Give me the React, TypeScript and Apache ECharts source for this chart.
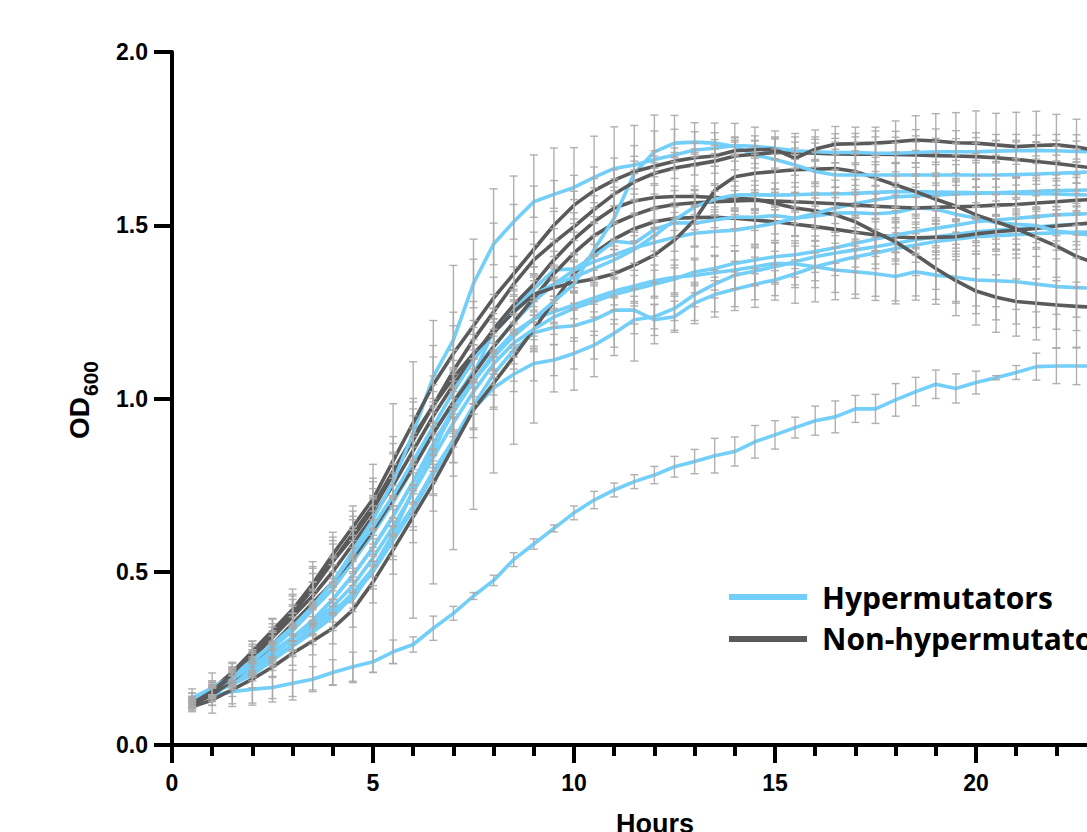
import React, { useEffect, useRef } from 'react';
import * as echarts from 'echarts';

// Time points (hours)
const HOURS = [0.5, 1, 1.5, 2, 2.5, 3, 3.5, 4, 4.5, 5, 5.5, 6, 6.5, 7, 7.5, 8, 8.5, 9, 9.5, 10, 10.5, 11, 11.5, 12, 12.5, 13, 13.5, 14, 14.5, 15, 15.5, 16, 16.5, 17, 17.5, 18, 18.5, 19, 19.5, 20, 20.5, 21, 21.5, 22, 22.5, 23];
const X_TICKS = [0, 5, 10, 15, 20];
const Y_TICKS = [0, 0.5, 1.0, 1.5, 2.0];

// ---------- Hypermutators (blue) ----------
const B1 = [0.13, 0.144, 0.154, 0.161, 0.166, 0.178, 0.19, 0.209, 0.226, 0.24, 0.269, 0.29, 0.337, 0.38, 0.43, 0.475, 0.535, 0.58, 0.625, 0.67, 0.707, 0.736, 0.76, 0.779, 0.803, 0.818, 0.835, 0.847, 0.875, 0.895, 0.916, 0.936, 0.947, 0.97, 0.97, 0.996, 1.02, 1.041, 1.029, 1.046, 1.06, 1.075, 1.092, 1.094, 1.094, 1.094];
const B1_ERR = [0.02, 0.03, 0.035, 0.04, 0.032, 0.038, 0.036, 0.037, 0.042, 0.031, 0.034, 0.022, 0.035, 0.02, 0.01, 0.015, 0.02, 0.015, 0.01, 0.02, 0.025, 0.02, 0.02, 0.025, 0.03, 0.035, 0.05, 0.042, 0.047, 0.041, 0.03, 0.042, 0.046, 0.039, 0.042, 0.047, 0.041, 0.041, 0.042, 0.033, 0.006, 0.02, 0.039, 0.051, 0.054, 0.054];

const B_FAST = [0.135, 0.165, 0.2, 0.245, 0.29, 0.34, 0.4, 0.47, 0.56, 0.65, 0.76, 0.9, 1.063, 1.169, 1.332, 1.446, 1.51, 1.568, 1.589, 1.609, 1.638, 1.664, 1.674, 1.69, 1.703, 1.717, 1.722, 1.73, 1.728, 1.722, 1.715, 1.712, 1.71, 1.71, 1.708, 1.708, 1.71, 1.712, 1.712, 1.712, 1.714, 1.715, 1.716, 1.715, 1.713, 1.712];
const B_FAST_ERR = [0.015, 0.02, 0.025, 0.03, 0.035, 0.04, 0.05, 0.05, 0.06, 0.07, 0.08, 0.09, 0.09, 0.08, 0.07, 0.06, 0.05, 0.045, 0.04, 0.035, 0.03, 0.03, 0.025, 0.025, 0.02, 0.02, 0.025, 0.025, 0.03, 0.03, 0.025, 0.025, 0.03, 0.03, 0.025, 0.03, 0.03, 0.03, 0.025, 0.025, 0.03, 0.03, 0.025, 0.03, 0.03, 0.03];

const B_STEEP = [0.13, 0.16, 0.19, 0.23, 0.27, 0.31, 0.36, 0.42, 0.49, 0.57, 0.66, 0.76, 0.87, 0.97, 1.05, 1.12, 1.18, 1.23, 1.28, 1.33, 1.43, 1.52, 1.65, 1.712, 1.737, 1.74, 1.737, 1.727, 1.703, 1.69, 1.674, 1.655, 1.645, 1.645, 1.645, 1.645, 1.645, 1.645, 1.645, 1.645, 1.645, 1.646, 1.648, 1.65, 1.652, 1.655];
const B_STEEP_ERR = [0.01, 0.015, 0.02, 0.025, 0.03, 0.035, 0.04, 0.04, 0.045, 0.05, 0.055, 0.06, 0.06, 0.065, 0.065, 0.06, 0.06, 0.06, 0.065, 0.07, 0.08, 0.09, 0.08, 0.06, 0.04, 0.03, 0.03, 0.025, 0.025, 0.03, 0.03, 0.035, 0.035, 0.03, 0.03, 0.035, 0.035, 0.03, 0.03, 0.035, 0.035, 0.03, 0.03, 0.035, 0.03, 0.03];

const B_H = [0.13, 0.165, 0.2, 0.24, 0.29, 0.34, 0.4, 0.47, 0.55, 0.63, 0.72, 0.82, 0.92, 1.02, 1.11, 1.19, 1.25, 1.3, 1.33, 1.35, 1.375, 1.4, 1.43, 1.47, 1.515, 1.553, 1.575, 1.587, 1.588, 1.587, 1.588, 1.59, 1.59, 1.592, 1.595, 1.597, 1.597, 1.596, 1.595, 1.594, 1.593, 1.592, 1.591, 1.59, 1.588, 1.587];
const B_H_ERR = [0.01, 0.02, 0.02, 0.03, 0.035, 0.04, 0.045, 0.05, 0.055, 0.06, 0.065, 0.07, 0.07, 0.065, 0.06, 0.055, 0.05, 0.05, 0.045, 0.045, 0.04, 0.04, 0.04, 0.045, 0.05, 0.05, 0.045, 0.04, 0.04, 0.035, 0.035, 0.035, 0.04, 0.04, 0.04, 0.045, 0.045, 0.045, 0.04, 0.04, 0.04, 0.045, 0.045, 0.045, 0.05, 0.05];

const B_B = [0.125, 0.16, 0.195, 0.235, 0.28, 0.33, 0.39, 0.45, 0.53, 0.61, 0.7, 0.8, 0.9, 0.99, 1.08, 1.15, 1.22, 1.28, 1.33, 1.37, 1.395, 1.415, 1.435, 1.45, 1.465, 1.477, 1.482, 1.486, 1.495, 1.506, 1.52, 1.534, 1.55, 1.563, 1.573, 1.582, 1.585, 1.587, 1.59, 1.592, 1.594, 1.596, 1.598, 1.6, 1.601, 1.602];
const B_B_ERR = [0.015, 0.02, 0.025, 0.03, 0.035, 0.04, 0.045, 0.05, 0.06, 0.065, 0.07, 0.075, 0.08, 0.08, 0.075, 0.07, 0.065, 0.06, 0.055, 0.05, 0.05, 0.045, 0.045, 0.04, 0.04, 0.04, 0.045, 0.045, 0.05, 0.05, 0.05, 0.045, 0.045, 0.04, 0.04, 0.04, 0.035, 0.035, 0.035, 0.04, 0.04, 0.04, 0.045, 0.045, 0.045, 0.045];

const B_C = [0.129, 0.15, 0.175, 0.203, 0.244, 0.29, 0.344, 0.394, 0.42, 0.51, 0.61, 0.736, 0.845, 0.974, 1.07, 1.195, 1.255, 1.316, 1.371, 1.374, 1.41, 1.454, 1.448, 1.488, 1.507, 1.506, 1.515, 1.524, 1.523, 1.528, 1.52, 1.527, 1.535, 1.536, 1.533, 1.537, 1.55, 1.547, 1.532, 1.521, 1.507, 1.503, 1.499, 1.483, 1.476, 1.47];
const B_C_ERR = [0.033, 0.058, 0.064, 0.088, 0.12, 0.16, 0.185, 0.22, 0.24, 0.3, 0.375, 0.37, 0.38, 0.41, 0.39, 0.41, 0.387, 0.387, 0.352, 0.35, 0.347, 0.33, 0.34, 0.33, 0.31, 0.29, 0.28, 0.27, 0.26, 0.244, 0.245, 0.248, 0.25, 0.247, 0.25, 0.264, 0.266, 0.275, 0.293, 0.309, 0.316, 0.323, 0.33, 0.337, 0.33, 0.33];

const B_D = [0.125, 0.155, 0.185, 0.22, 0.26, 0.305, 0.355, 0.4, 0.46, 0.54, 0.63, 0.73, 0.83, 0.93, 1.02, 1.1, 1.16, 1.2, 1.235, 1.26, 1.28, 1.3, 1.315, 1.33, 1.345, 1.365, 1.375, 1.39, 1.4, 1.409, 1.415, 1.424, 1.435, 1.448, 1.46, 1.472, 1.482, 1.491, 1.5, 1.51, 1.515, 1.52, 1.525, 1.53, 1.532, 1.534];
const B_D_ERR = [0.01, 0.015, 0.02, 0.025, 0.03, 0.035, 0.04, 0.045, 0.05, 0.055, 0.06, 0.065, 0.07, 0.07, 0.065, 0.06, 0.06, 0.055, 0.05, 0.05, 0.045, 0.045, 0.04, 0.04, 0.04, 0.035, 0.035, 0.035, 0.04, 0.04, 0.04, 0.045, 0.045, 0.045, 0.05, 0.05, 0.05, 0.05, 0.055, 0.055, 0.055, 0.06, 0.06, 0.06, 0.06, 0.06];

const B_E = [0.12, 0.15, 0.18, 0.215, 0.25, 0.29, 0.335, 0.38, 0.44, 0.51, 0.6, 0.69, 0.79, 0.88, 0.97, 1.03, 1.07, 1.101, 1.111, 1.13, 1.154, 1.188, 1.227, 1.236, 1.26, 1.3, 1.33, 1.356, 1.368, 1.38, 1.395, 1.409, 1.42, 1.429, 1.438, 1.448, 1.458, 1.467, 1.474, 1.481, 1.486, 1.49, 1.495, 1.5, 1.503, 1.506];
const B_E_ERR = [0.01, 0.015, 0.02, 0.02, 0.025, 0.03, 0.035, 0.04, 0.045, 0.05, 0.055, 0.06, 0.065, 0.065, 0.06, 0.055, 0.05, 0.05, 0.045, 0.045, 0.04, 0.04, 0.04, 0.035, 0.035, 0.035, 0.04, 0.04, 0.04, 0.045, 0.045, 0.045, 0.05, 0.05, 0.05, 0.045, 0.045, 0.045, 0.04, 0.04, 0.04, 0.045, 0.045, 0.045, 0.05, 0.05];

const B_F = [0.12, 0.15, 0.18, 0.21, 0.245, 0.285, 0.325, 0.37, 0.43, 0.5, 0.59, 0.68, 0.78, 0.88, 0.98, 1.07, 1.14, 1.19, 1.205, 1.21, 1.227, 1.255, 1.255, 1.227, 1.236, 1.275, 1.3, 1.315, 1.33, 1.342, 1.36, 1.38, 1.395, 1.409, 1.42, 1.433, 1.443, 1.453, 1.46, 1.467, 1.47, 1.473, 1.476, 1.478, 1.48, 1.481];
const B_F_ERR = [0.01, 0.015, 0.02, 0.025, 0.03, 0.03, 0.035, 0.04, 0.045, 0.05, 0.055, 0.06, 0.06, 0.065, 0.065, 0.06, 0.055, 0.05, 0.05, 0.045, 0.045, 0.04, 0.04, 0.045, 0.045, 0.05, 0.05, 0.05, 0.045, 0.045, 0.04, 0.04, 0.04, 0.045, 0.045, 0.045, 0.05, 0.05, 0.05, 0.05, 0.045, 0.045, 0.045, 0.05, 0.05, 0.05];

const B_G = [0.125, 0.155, 0.19, 0.225, 0.265, 0.31, 0.36, 0.42, 0.49, 0.57, 0.66, 0.76, 0.86, 0.96, 1.05, 1.13, 1.19, 1.23, 1.25, 1.27, 1.29, 1.31, 1.325, 1.34, 1.35, 1.355, 1.363, 1.371, 1.38, 1.39, 1.388, 1.38, 1.371, 1.366, 1.36, 1.352, 1.366, 1.356, 1.35, 1.342, 1.34, 1.337, 1.33, 1.323, 1.32, 1.318];
const B_G_ERR = [0.01, 0.015, 0.02, 0.025, 0.03, 0.035, 0.04, 0.045, 0.05, 0.055, 0.06, 0.065, 0.07, 0.07, 0.065, 0.06, 0.055, 0.05, 0.045, 0.04, 0.04, 0.04, 0.045, 0.045, 0.05, 0.05, 0.05, 0.055, 0.055, 0.06, 0.06, 0.06, 0.065, 0.065, 0.065, 0.07, 0.07, 0.07, 0.075, 0.075, 0.075, 0.08, 0.08, 0.08, 0.085, 0.085];

// ---------- Non-hypermutators (grey) ----------
const G1 = [0.12, 0.155, 0.205, 0.27, 0.33, 0.39, 0.465, 0.55, 0.63, 0.71, 0.82, 0.93, 1.04, 1.13, 1.21, 1.29, 1.36, 1.43, 1.5, 1.558, 1.6, 1.63, 1.655, 1.67, 1.685, 1.695, 1.7, 1.715, 1.718, 1.719, 1.693, 1.72, 1.734, 1.735, 1.737, 1.741, 1.746, 1.743, 1.738, 1.737, 1.732, 1.727, 1.73, 1.732, 1.726, 1.715];
const G1_ERR = [0.01, 0.015, 0.02, 0.03, 0.035, 0.04, 0.05, 0.05, 0.06, 0.06, 0.07, 0.07, 0.08, 0.08, 0.07, 0.06, 0.05, 0.05, 0.04, 0.04, 0.035, 0.03, 0.03, 0.03, 0.025, 0.025, 0.03, 0.03, 0.025, 0.03, 0.03, 0.035, 0.03, 0.03, 0.035, 0.03, 0.03, 0.035, 0.035, 0.03, 0.03, 0.035, 0.03, 0.03, 0.035, 0.03];

const G2 = [0.12, 0.15, 0.2, 0.26, 0.32, 0.38, 0.45, 0.53, 0.6, 0.68, 0.78, 0.88, 0.98, 1.08, 1.17, 1.25, 1.33, 1.4, 1.45, 1.496, 1.545, 1.59, 1.625, 1.65, 1.665, 1.675, 1.685, 1.7, 1.705, 1.71, 1.71, 1.708, 1.706, 1.705, 1.705, 1.704, 1.703, 1.701, 1.7, 1.698, 1.695, 1.69, 1.684, 1.678, 1.671, 1.664];
const G2_ERR = [0.01, 0.02, 0.02, 0.025, 0.03, 0.04, 0.045, 0.05, 0.05, 0.06, 0.065, 0.07, 0.06, 0.06, 0.055, 0.05, 0.05, 0.045, 0.04, 0.04, 0.04, 0.035, 0.035, 0.03, 0.03, 0.03, 0.035, 0.04, 0.04, 0.045, 0.045, 0.04, 0.045, 0.05, 0.05, 0.05, 0.055, 0.05, 0.05, 0.055, 0.05, 0.05, 0.055, 0.05, 0.05, 0.05];

const G_LATE = [0.12, 0.16, 0.21, 0.27, 0.33, 0.39, 0.46, 0.53, 0.61, 0.69, 0.79, 0.89, 0.98, 1.06, 1.13, 1.19, 1.25, 1.3, 1.32, 1.335, 1.345, 1.36, 1.385, 1.414, 1.457, 1.515, 1.6, 1.64, 1.65, 1.655, 1.66, 1.662, 1.664, 1.655, 1.636, 1.616, 1.597, 1.575, 1.555, 1.53, 1.51, 1.49, 1.465, 1.44, 1.41, 1.39];
const G_LATE_ERR = [0.015, 0.02, 0.025, 0.03, 0.035, 0.045, 0.05, 0.06, 0.065, 0.07, 0.08, 0.08, 0.085, 0.08, 0.075, 0.07, 0.065, 0.06, 0.06, 0.06, 0.065, 0.07, 0.07, 0.08, 0.08, 0.075, 0.07, 0.06, 0.055, 0.05, 0.05, 0.05, 0.055, 0.06, 0.06, 0.065, 0.07, 0.07, 0.075, 0.08, 0.08, 0.085, 0.085, 0.09, 0.09, 0.09];

const G_CRASH = [0.115, 0.15, 0.195, 0.25, 0.31, 0.37, 0.43, 0.5, 0.58, 0.66, 0.75, 0.85, 0.95, 1.04, 1.12, 1.2, 1.27, 1.33, 1.4, 1.46, 1.51, 1.55, 1.57, 1.58, 1.583, 1.583, 1.58, 1.578, 1.575, 1.563, 1.55, 1.542, 1.53, 1.51, 1.48, 1.452, 1.415, 1.375, 1.34, 1.31, 1.292, 1.28, 1.275, 1.27, 1.266, 1.263];
const G_CRASH_ERR = [0.01, 0.015, 0.02, 0.025, 0.03, 0.035, 0.04, 0.045, 0.05, 0.055, 0.06, 0.065, 0.07, 0.07, 0.065, 0.06, 0.055, 0.05, 0.05, 0.045, 0.04, 0.04, 0.035, 0.035, 0.03, 0.03, 0.035, 0.035, 0.04, 0.04, 0.045, 0.045, 0.05, 0.05, 0.055, 0.055, 0.06, 0.06, 0.06, 0.065, 0.065, 0.065, 0.07, 0.07, 0.07, 0.07];

const G_FLAT = [0.115, 0.145, 0.185, 0.235, 0.29, 0.35, 0.41, 0.47, 0.54, 0.62, 0.71, 0.8, 0.9, 0.99, 1.07, 1.15, 1.22, 1.29, 1.36, 1.42, 1.47, 1.505, 1.53, 1.55, 1.56, 1.565, 1.568, 1.57, 1.572, 1.57, 1.568, 1.565, 1.562, 1.558, 1.555, 1.552, 1.55, 1.552, 1.553, 1.555, 1.558, 1.56, 1.564, 1.568, 1.572, 1.575];
const G_FLAT_ERR = [0.01, 0.02, 0.025, 0.03, 0.04, 0.05, 0.06, 0.07, 0.08, 0.09, 0.1, 0.1, 0.1, 0.09, 0.085, 0.08, 0.075, 0.07, 0.065, 0.06, 0.055, 0.05, 0.045, 0.04, 0.04, 0.035, 0.03, 0.03, 0.03, 0.025, 0.025, 0.03, 0.03, 0.03, 0.035, 0.035, 0.03, 0.03, 0.035, 0.035, 0.03, 0.03, 0.035, 0.035, 0.03, 0.03];

const G_MID = [0.11, 0.13, 0.16, 0.19, 0.225, 0.265, 0.3, 0.337, 0.39, 0.47, 0.563, 0.659, 0.755, 0.861, 0.967, 1.044, 1.12, 1.2, 1.28, 1.36, 1.42, 1.46, 1.49, 1.51, 1.52, 1.522, 1.523, 1.52, 1.515, 1.51, 1.503, 1.496, 1.488, 1.48, 1.472, 1.466, 1.464, 1.465, 1.467, 1.475, 1.481, 1.486, 1.491, 1.498, 1.503, 1.508];
const G_MID_ERR = [0.01, 0.015, 0.02, 0.025, 0.03, 0.035, 0.04, 0.045, 0.05, 0.06, 0.07, 0.075, 0.08, 0.085, 0.08, 0.075, 0.07, 0.065, 0.06, 0.055, 0.05, 0.045, 0.04, 0.04, 0.035, 0.035, 0.03, 0.03, 0.03, 0.035, 0.035, 0.04, 0.04, 0.04, 0.045, 0.045, 0.045, 0.05, 0.05, 0.05, 0.05, 0.055, 0.055, 0.055, 0.06, 0.06];

const BLUE = '#72CFFA';
const GREY = '#5A5A5A';
const ERR_COLOR = '#A9A9A9';
const FONT = '"Liberation Sans", Arial, sans-serif';

type Curve = { name: string; group: 'hyper' | 'non'; values: number[]; errors: number[] };

const CURVES: Curve[] = [
  { name: 'Hypermutators', group: 'hyper', values: B1, errors: B1_ERR },
  { name: 'Hypermutators', group: 'hyper', values: B_G, errors: B_G_ERR },
  { name: 'Hypermutators', group: 'hyper', values: B_F, errors: B_F_ERR },
  { name: 'Hypermutators', group: 'hyper', values: B_E, errors: B_E_ERR },
  { name: 'Non-hypermutators', group: 'non', values: G_MID, errors: G_MID_ERR },
  { name: 'Hypermutators', group: 'hyper', values: B_D, errors: B_D_ERR },
  { name: 'Hypermutators', group: 'hyper', values: B_C, errors: B_C_ERR },
  { name: 'Non-hypermutators', group: 'non', values: G_CRASH, errors: G_CRASH_ERR },
  { name: 'Hypermutators', group: 'hyper', values: B_B, errors: B_B_ERR },
  { name: 'Non-hypermutators', group: 'non', values: G_FLAT, errors: G_FLAT_ERR },
  { name: 'Hypermutators', group: 'hyper', values: B_H, errors: B_H_ERR },
  { name: 'Non-hypermutators', group: 'non', values: G_LATE, errors: G_LATE_ERR },
  { name: 'Hypermutators', group: 'hyper', values: B_STEEP, errors: B_STEEP_ERR },
  { name: 'Non-hypermutators', group: 'non', values: G2, errors: G2_ERR },
  { name: 'Hypermutators', group: 'hyper', values: B_FAST, errors: B_FAST_ERR },
  { name: 'Non-hypermutators', group: 'non', values: G1, errors: G1_ERR },
];

export default function App() {
  const ref = useRef<HTMLDivElement>(null);

  useEffect(() => {
    if (!ref.current) return;
    const chart = echarts.init(ref.current, null, { renderer: 'svg' });

    const lineSeries = CURVES.map((c) => ({
      type: 'line',
      name: c.name,
      data: HOURS.map((h, i) => [h, c.values[i]]),
      symbol: 'none',
      z: 2,
      clip: false,
      lineStyle: { color: c.group === 'hyper' ? BLUE : GREY, width: 3.6, join: 'round', cap: 'round' },
      itemStyle: { color: c.group === 'hyper' ? BLUE : GREY },
      silent: true,
    }));

    const errData: number[][] = [];
    CURVES.forEach((c) => {
      HOURS.forEach((h, i) => {
        const v = c.values[i];
        const e = c.errors[i];
        if (v == null || e == null) return;
        errData.push([h, v - e, v + e]);
      });
    });

    const errSeries = {
      type: 'custom',
      name: 'err',
      z: 3,
      silent: true,
      clip: false,
      data: errData,
      renderItem: (params: any, api: any) => {
        const x = api.value(0);
        const lo = api.coord([x, api.value(1)]);
        const hi = api.coord([x, api.value(2)]);
        const hw = 4;
        const st = { stroke: ERR_COLOR, lineWidth: 1.4, opacity: 0.9 };
        return {
          type: 'group',
          children: [
            { type: 'line', shape: { x1: hi[0], y1: hi[1], x2: lo[0], y2: lo[1] }, style: st },
            { type: 'line', shape: { x1: hi[0] - hw, y1: hi[1], x2: hi[0] + hw, y2: hi[1] }, style: st },
            { type: 'line', shape: { x1: lo[0] - hw, y1: lo[1], x2: lo[0] + hw, y2: lo[1] }, style: st },
          ],
        };
      },
    };

    const option: any = {
      animation: false,
      backgroundColor: '#ffffff',
      grid: { left: 172, top: 52, width: 1005, bottom: 87, containLabel: false, outerBoundsMode: 'none' },
      xAxis: {
        type: 'value',
        min: 0,
        max: 25,
        interval: 5,
        axisLine: { show: true, lineStyle: { color: '#000', width: 4 } },
        axisTick: { show: true, length: 18, lineStyle: { color: '#000', width: 4 } },
        minorTick: { show: true, splitNumber: 5, length: 11, lineStyle: { color: '#000', width: 4 } },
        splitLine: { show: false },
        minorSplitLine: { show: false },
        axisLabel: {
          margin: 26,
          color: '#000',
          fontSize: 23,
          fontWeight: 'bold',
          fontFamily: FONT,
          formatter: (v: number) => (X_TICKS.indexOf(v) >= 0 ? String(v) : ''),
        },
      },
      yAxis: {
        type: 'value',
        min: 0,
        max: 2,
        interval: 0.5,
        axisLine: { show: true, lineStyle: { color: '#000', width: 4 } },
        axisTick: { show: true, length: 18, lineStyle: { color: '#000', width: 4 } },
        splitLine: { show: false },
        axisLabel: {
          margin: 24,
          color: '#000',
          fontSize: 23,
          fontWeight: 'bold',
          fontFamily: FONT,
          formatter: (v: number) => (Y_TICKS.indexOf(v) >= 0 ? v.toFixed(1) : ''),
        },
      },
      series: [...lineSeries, errSeries],
      graphic: [
        {
          type: 'group',
          x: 79,
          y: 397,
          rotation: Math.PI / 2,
          children: [
            {
              type: 'text',
              x: 0,
              y: 0,
              style: { text: 'OD', fontSize: 28, fontWeight: 'bold', fontFamily: FONT, fill: '#000', align: 'right', verticalAlign: 'middle' },
            },
            {
              type: 'text',
              x: 1,
              y: 11,
              style: { text: '600', fontSize: 21, fontWeight: 'bold', fontFamily: FONT, fill: '#000', align: 'left', verticalAlign: 'middle' },
            },
          ],
        },
        {
          type: 'text',
          x: 655,
          y: 810,
          style: { text: 'Hours', fontSize: 27, fontWeight: 'bold', fontFamily: FONT, fill: '#000', align: 'center', verticalAlign: 'top' },
        },
        { type: 'line', shape: { x1: 729, y1: 597, x2: 807, y2: 597 }, style: { stroke: BLUE, lineWidth: 6 } },
        { type: 'line', shape: { x1: 729, y1: 639, x2: 807, y2: 639 }, style: { stroke: GREY, lineWidth: 6 } },
        {
          type: 'text',
          x: 822,
          y: 597,
          style: { text: 'Hypermutators', fontSize: 30, fontWeight: 'bold', fontFamily: '"Open Sans", sans-serif', fill: '#000', align: 'left', verticalAlign: 'middle' },
        },
        {
          type: 'text',
          x: 822,
          y: 638,
          style: { text: 'Non-hypermutators', fontSize: 30, fontWeight: 'bold', fontFamily: '"Open Sans", sans-serif', fill: '#000', align: 'left', verticalAlign: 'middle' },
        },
      ],
    };

    chart.setOption(option);
    return () => chart.dispose();
  }, []);

  return (
    <div
      ref={ref}
      style={{ position: 'fixed', left: 0, top: 0, width: 1087, height: 832, background: '#ffffff' }}
    />
  );
}
